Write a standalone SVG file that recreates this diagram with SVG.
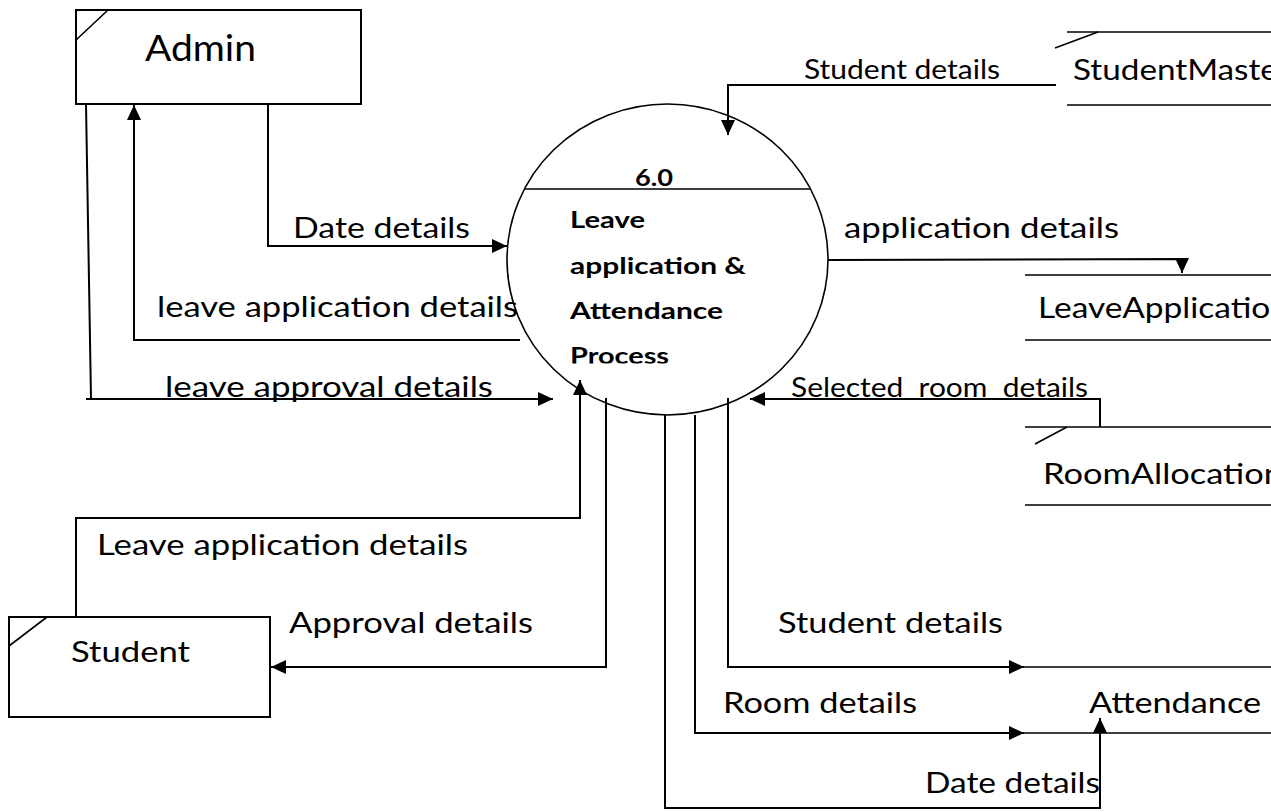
<svg xmlns="http://www.w3.org/2000/svg" width="1271" height="812" viewBox="0 0 1271 812">
<style>
.bg{fill:#fff}
.box{fill:#fff;stroke:#000;stroke-width:2}
.ln{fill:none;stroke:#000;stroke-width:1.6}
.proc{fill:#fff;stroke:#000;stroke-width:1.6}
.cn{fill:none;stroke:#000;stroke-width:2}
.arr{fill:none;stroke:#000;stroke-width:2;marker-end:url(#ah)}
.t{font-family:Lato,"Open Sans",sans-serif;font-size:29px;fill:#000}
.ts{font-family:Lato,"Open Sans",sans-serif;font-size:26px;fill:#000}
.tb{font-family:Lato,"Open Sans",sans-serif;font-size:23px;font-weight:bold;fill:#000}
</style>
<defs>
<marker id="ah" markerUnits="userSpaceOnUse" markerWidth="16" markerHeight="15" refX="15" refY="7" orient="auto" viewBox="0 0 16 15">
<path d="M0,0 L15,7 L0,14 z" fill="#000"/>
</marker>
<clipPath id="pc"><rect x="500" y="100" width="340" height="263.5"/></clipPath>
</defs>
<rect class="bg" x="0" y="0" width="1271" height="812"/>

<g id="admin">
<rect class="box" x="76" y="10" width="285" height="94"/>
<line class="ln" x1="76" y1="40" x2="108" y2="10"/>
<text class="t" x="145" y="61" style="font-size:36px" textLength="111" lengthAdjust="spacingAndGlyphs">Admin</text>
</g>

<g id="student">
<rect class="box" x="9" y="617" width="261" height="100"/>
<line class="ln" x1="9" y1="646" x2="47" y2="617"/>
<text class="t" x="71" y="662" textLength="119" lengthAdjust="spacingAndGlyphs">Student</text>
</g>

<g id="process">
<ellipse class="proc" cx="667.5" cy="259.5" rx="160.5" ry="155.5"/>
<line class="ln" x1="525" y1="189" x2="810" y2="189"/>
<text class="tb" x="635" y="186" textLength="38" lengthAdjust="spacingAndGlyphs">6.0</text>
<g clip-path="url(#pc)">
<text class="tb" x="570" y="228" textLength="75" lengthAdjust="spacingAndGlyphs">Leave</text>
<text class="tb" x="570" y="274" textLength="176" lengthAdjust="spacingAndGlyphs">application &amp;</text>
<text class="tb" x="570" y="319" textLength="153" lengthAdjust="spacingAndGlyphs">Attendance</text>
<text class="tb" x="570" y="364" textLength="99" lengthAdjust="spacingAndGlyphs">Process</text>
</g>
</g>

<g id="studentmaster">
<line class="ln" x1="1067" y1="32" x2="1271" y2="32"/>
<line class="ln" x1="1055" y1="48" x2="1098" y2="32"/>
<line class="ln" x1="1067" y1="105" x2="1271" y2="105"/>
<text class="t" x="1073" y="80" textLength="217" lengthAdjust="spacingAndGlyphs">StudentMaster</text>
</g>

<g id="leaveapplication">
<line class="ln" x1="1025" y1="275" x2="1271" y2="275"/>
<line class="ln" x1="1025" y1="340" x2="1271" y2="340"/>
<text class="t" x="1038" y="318" textLength="251" lengthAdjust="spacingAndGlyphs">LeaveApplication</text>
</g>

<g id="roomallocation">
<line class="ln" x1="1025" y1="427" x2="1271" y2="427"/>
<line class="ln" x1="1035" y1="444" x2="1067" y2="427"/>
<line class="ln" x1="1025" y1="505" x2="1271" y2="505"/>
<text class="t" x="1043" y="484" textLength="240" lengthAdjust="spacingAndGlyphs">RoomAllocation</text>
</g>

<g id="attendance">
<line class="ln" x1="1024" y1="667" x2="1271" y2="667"/>
<line class="ln" x1="1024" y1="733" x2="1271" y2="733"/>
<text class="t" x="1089" y="713" textLength="172" lengthAdjust="spacingAndGlyphs">Attendance</text>
</g>

<g id="connectors">
<path class="arr" d="M268,104 L268,246 L507,246"/>
<path class="arr" d="M520,340 L134,340 L134,105"/>
<path class="cn" d="M86,104 L91,399"/>
<path class="arr" d="M86,399 L553,399"/>
<path class="arr" d="M76,617 L76,518 L580,518 L580,380"/>
<path class="arr" d="M606,398 L606,667 L271,667"/>
<path class="arr" d="M1056,85 L728,85 L728,135"/>
<path class="arr" d="M828,260 L1182,259 L1182,273"/>
<path class="arr" d="M1100,427 L1100,399 L750,399"/>
<path class="arr" d="M728,398 L728,667 L1024,667"/>
<path class="arr" d="M695,415 L695,733 L1024,733"/>
<path class="arr" d="M665,415 L665,808 L1100,808 L1100,718"/>
<text class="t" x="293" y="238" textLength="177" lengthAdjust="spacingAndGlyphs">Date details</text>
<text class="t" x="157" y="317" textLength="361" lengthAdjust="spacingAndGlyphs">leave application details</text>
<text class="t" x="165" y="397" textLength="328" lengthAdjust="spacingAndGlyphs">leave approval details</text>
<text class="ts" x="804" y="79" textLength="196" lengthAdjust="spacingAndGlyphs">Student details</text>
<text class="t" x="844" y="238" textLength="275" lengthAdjust="spacingAndGlyphs">application details</text>
<text class="ts" x="791" y="397" textLength="297" lengthAdjust="spacingAndGlyphs" xml:space="preserve">Selected  room  details</text>
<text class="t" x="97" y="555" textLength="371" lengthAdjust="spacingAndGlyphs">Leave application details</text>
<text class="t" x="289" y="633" textLength="244" lengthAdjust="spacingAndGlyphs">Approval details</text>
<text class="t" x="778" y="633" textLength="225" lengthAdjust="spacingAndGlyphs">Student details</text>
<text class="t" x="723" y="713" textLength="194" lengthAdjust="spacingAndGlyphs">Room details</text>
<text class="t" x="925" y="793" textLength="175" lengthAdjust="spacingAndGlyphs">Date details</text>
</g>
</svg>
